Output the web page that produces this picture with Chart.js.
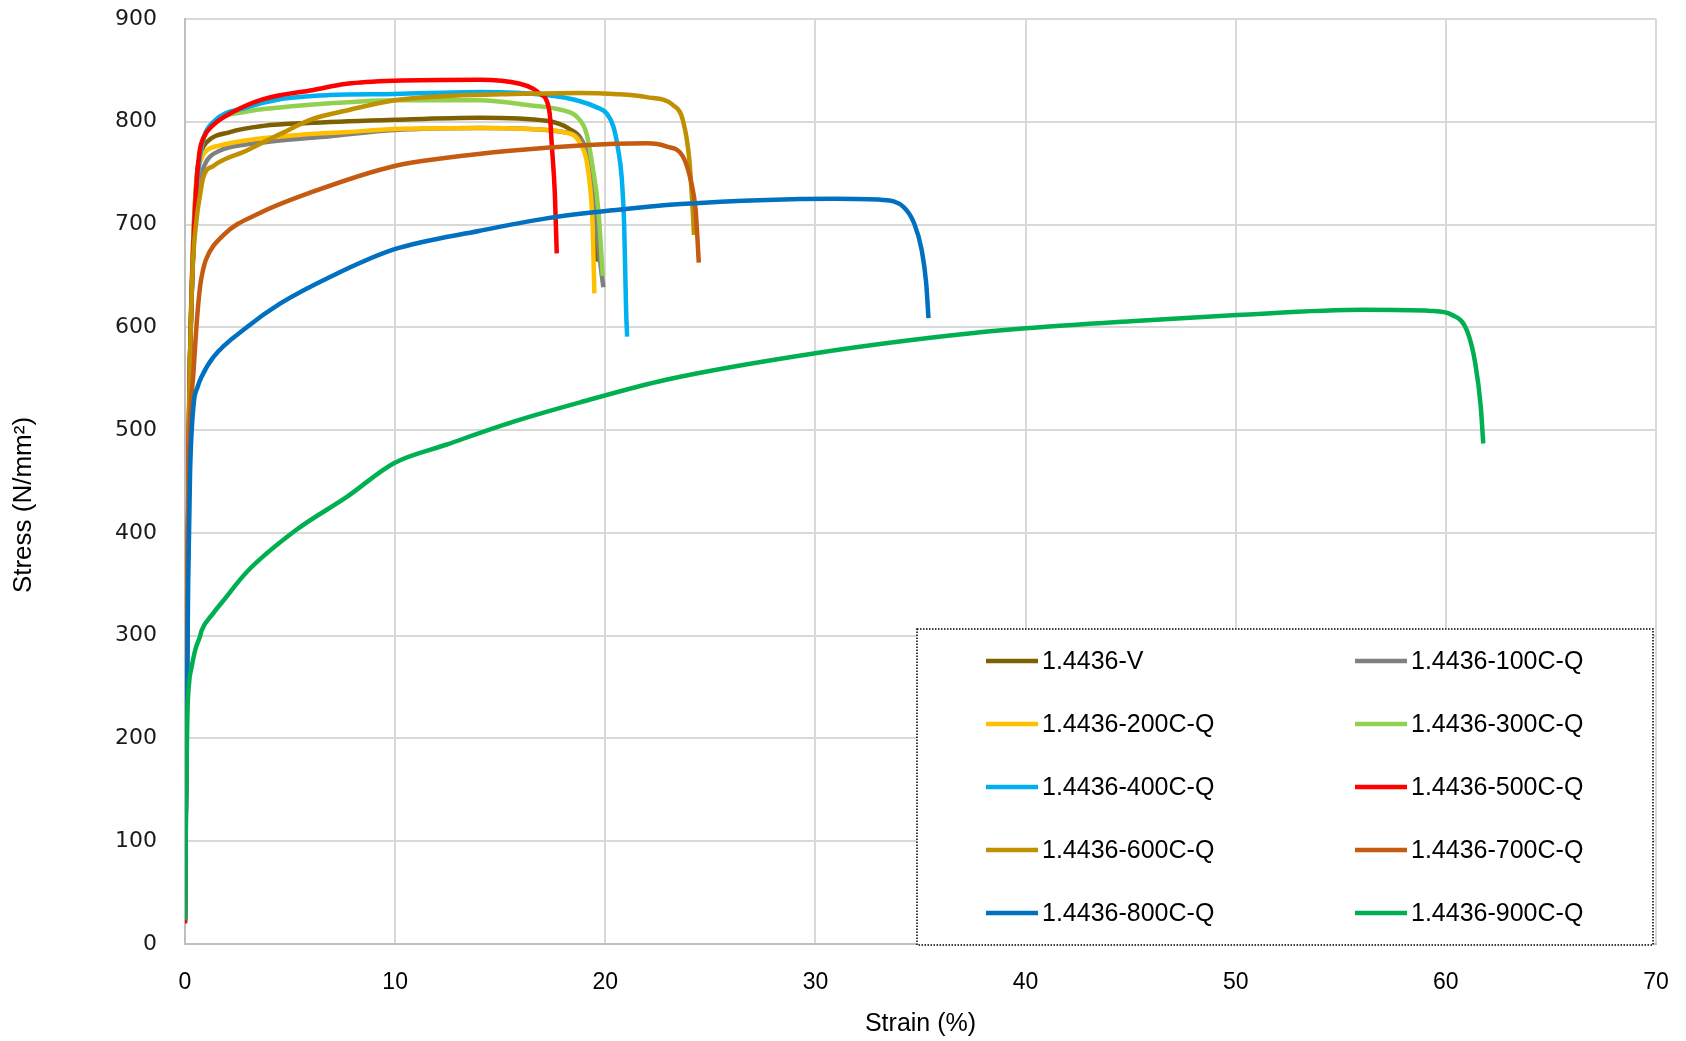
<!DOCTYPE html>
<html>
<head>
<meta charset="utf-8">
<script src="https://cdn.jsdelivr.net/npm/chart.js@4.4.1/dist/chart.umd.min.js"></script>
<style>
  html, body { margin: 0; padding: 0; background: #fff; }
</style>
</head>
<body>
<canvas id="stressChart" width="1686" height="1041"></canvas>
<script>
// stress-strain curves, values
const seriesLabels = [
  "1.4436-V", "1.4436-100C-Q", "1.4436-200C-Q", "1.4436-300C-Q", "1.4436-400C-Q",
  "1.4436-500C-Q", "1.4436-600C-Q", "1.4436-700C-Q", "1.4436-800C-Q", "1.4436-900C-Q"
];
const seriesColors = [
  "#7F6000", "#808080", "#FFC000", "#92D050", "#00B0F0",
  "#FF0000", "#BF9000", "#C55A11", "#0070C0", "#00B050"
];

const strainV = [0, 0.1, 0.2, 0.35, 0.55, 0.8, 1.03, 2.14, 3.73, 6.11, 9.97, 14.04, 17.2, 18.3, 18.96, 19.28, 19.5, 19.63];
const stressV = [22, 300, 520, 660, 745, 772, 780, 790, 796, 799, 802, 804, 801, 793, 779, 756, 714, 664];

const strain100 = [0, 0.1, 0.2, 0.35, 0.55, 0.8, 1.03, 1.67, 2.94, 4.2, 6.9, 9.97, 14.04, 16.4, 18.0, 18.64, 19.1, 19.43, 19.75, 19.91];
const stress100 = [22, 300, 520, 650, 720, 750, 762, 772, 778, 781, 786, 792, 794, 793, 790, 786, 771, 730, 665, 639];

const strain200 = [0, 0.1, 0.2, 0.35, 0.55, 0.8, 1.03, 1.67, 2.94, 5.31, 7.7, 9.97, 14.04, 16.4, 18.0, 18.8, 19.2, 19.4, 19.48];
const stress200 = [22, 300, 520, 660, 740, 765, 772, 777, 782, 787, 790, 793, 794, 793, 790, 779, 750, 698, 633];

const strain300 = [0, 0.1, 0.2, 0.35, 0.5, 0.7, 0.9, 1.35, 2.94, 4.52, 6.9, 9.97, 14.04, 16.4, 18.0, 18.64, 19.1, 19.4, 19.67, 19.88];
const stress300 = [22, 300, 520, 650, 720, 765, 785, 799, 810, 814, 818, 821, 821, 816, 811, 805, 789, 756, 714, 650];

const strain400 = [0, 0.1, 0.2, 0.35, 0.5, 0.7, 0.9, 1.35, 2.94, 4.52, 6.9, 9.97, 14.04, 17.2, 18.8, 19.6, 20.07, 20.39, 20.62, 20.78, 20.9, 20.99, 21.04];
const stress400 = [22, 300, 520, 650, 720, 765, 785, 800, 814, 822, 826, 827, 829, 826, 820, 814, 808, 795, 772, 746, 698, 617, 591];

const strain500 = [0, 0.1, 0.18, 0.3, 0.4, 0.55, 0.7, 0.87, 1.35, 2.14, 3.73, 6.11, 7.7, 9.97, 14.04, 15.94, 16.58, 16.9, 17.2, 17.37, 17.45, 17.6, 17.69];
const stress500 = [20, 300, 500, 620, 680, 740, 772, 784, 797, 808, 822, 831, 837, 840, 841, 837, 832, 827, 821, 805, 779, 730, 672];

const strain600 = [0, 0.1, 0.2, 0.35, 0.55, 0.71, 0.87, 1.35, 2.94, 4.52, 6.11, 7.7, 9.97, 12.45, 15.6, 18.8, 20.4, 21.97, 23.24, 23.7, 24.0, 24.16, 24.22];
const stress600 = [25, 300, 520, 650, 705, 728, 746, 757, 772, 788, 803, 811, 821, 825, 827, 828, 827, 824, 816, 801, 763, 714, 690];

const strain700 = [0, 0.1, 0.18, 0.24, 0.4, 0.56, 0.72, 0.86, 1.0, 1.84, 3.54, 6.09, 9.97, 12.45, 15.6, 18.8, 21.97, 22.9, 23.7, 24.1, 24.3, 24.45];
const stress700 = [25, 300, 450, 507, 555, 605, 640, 656, 666, 690, 711, 732, 757, 765, 772, 777, 779, 776, 766, 740, 714, 663];

const strain800 = [0, 0.08, 0.15, 0.24, 0.4, 0.6, 0.79, 1.35, 2.94, 4.52, 6.9, 9.97, 14.04, 17.2, 20.4, 23.6, 27.7, 30.9, 33.2, 34.2, 34.7, 35.06, 35.27, 35.38];
const stress800 = [30, 200, 350, 458, 523, 542, 552, 571, 600, 623, 649, 676, 694, 706, 714, 720, 724, 725, 724, 717, 701, 675, 643, 609];

const strain900 = [0, 0.05, 0.11, 0.2, 0.32, 0.5, 0.71, 0.79, 1.35, 1.82, 2.94, 5.3, 7.7, 9.96, 12.46, 15.6, 18.8, 22.9, 30.07, 36.4, 40, 45, 50.05, 56.1, 59.3, 60.3, 61.0, 61.4, 61.66, 61.78];
const stress900 = [23, 140, 221, 255, 270, 287, 299, 305, 322, 334, 362, 403, 435, 468, 486, 508, 527, 549, 575, 592, 599, 606, 612, 617, 616, 612, 597, 565, 523, 487];

const strainTicks = [0, 10, 20, 30, 40, 50, 60, 70];
const stressTicks = [0, 100, 200, 300, 400, 500, 600, 700, 800, 900];

const allStrain = [strainV, strain100, strain200, strain300, strain400, strain500, strain600, strain700, strain800, strain900];
const allStress = [stressV, stress100, stress200, stress300, stress400, stress500, stress600, stress700, stress800, stress900];

const toPoints = (xs, ys) => xs.map((x, i) => ({ x: x, y: ys[i] }));

const datasets = seriesLabels.map((label, i) => ({
  label: label,
  data: toPoints(allStrain[i], allStress[i]),
  borderColor: seriesColors[i],
  backgroundColor: seriesColors[i],
  borderWidth: 4.5,
  pointRadius: 0,
  cubicInterpolationMode: "monotone",
  fill: false,
  order: seriesLabels.length - i   // later series on top, like excel
}));

// 2 x 5 legend inside the plot, dotted frame
const gridLegend = {
  id: "gridLegend",
  afterDraw(chart) {
    const ctx = chart.ctx;
    const area = chart.chartArea;
    const boxX = 917, boxY = 629;
    const boxW = area.right - 3 - boxX, boxH = area.bottom + 1 - boxY;
    ctx.save();
    ctx.fillStyle = "#ffffff";
    ctx.fillRect(boxX, boxY, boxW, boxH);
    ctx.strokeStyle = "#000000";
    ctx.lineWidth = 1.5;
    ctx.setLineDash([1.5, 1.5]);
    ctx.strokeRect(boxX, boxY, boxW, boxH);
    ctx.setLineDash([]);

    ctx.font = "25px 'Liberation Sans', Arial, sans-serif";
    ctx.textBaseline = "middle";
    ctx.textAlign = "left";
    chart.data.datasets.forEach((ds, i) => {
      const col = i % 2;
      const row = Math.floor(i / 2);
      const sx = col === 0 ? 986 : 1355;
      const sy = 661 + row * 63;
      ctx.strokeStyle = ds.borderColor;
      ctx.lineWidth = 4.5;
      ctx.beginPath();
      ctx.moveTo(sx, sy);
      ctx.lineTo(sx + 52, sy);
      ctx.stroke();
      ctx.fillStyle = "#000000";
      ctx.fillText(ds.label, sx + 56, sy + 1);
    });

    // y axis title, placed a bit below the middle like the original
    ctx.translate(24, 505);
    ctx.rotate(-Math.PI / 2);
    ctx.textAlign = "center";
    ctx.font = "26px 'Liberation Sans', Arial, sans-serif";
    ctx.fillText("Stress (N/mm²)", 0, 0);
    ctx.restore();
  }
};

const ctx = document.getElementById("stressChart").getContext("2d");

new Chart(ctx, {
  type: "line",
  data: { datasets: datasets },
  plugins: [gridLegend],
  options: {
    responsive: false,
    animation: false,
    layout: { padding: { top: 19, right: 30, left: 0, bottom: 0 } },
    plugins: {
      legend: { display: false },
      tooltip: { enabled: false }
    },
    scales: {
      x: {
        type: "linear",
        min: 0,
        max: 70,
        afterBuildTicks: (scale) => { scale.ticks = strainTicks.map(v => ({ value: v })); },
        afterFit: (scale) => {
          scale.height = 97;
          scale.paddingLeft = 0;
          scale.paddingRight = 0;
        },
        grid: { color: "#D9D9D9", lineWidth: 2, drawTicks: false },
        border: { color: "#BFBFBF", width: 2 },
        ticks: {
          padding: 25,
          color: "#000000",
          font: { family: "'Liberation Sans Narrow', 'Liberation Sans', sans-serif", size: 23 }
        },
        title: {
          display: true,
          text: "Strain (%)",
          color: "#000000",
          padding: { top: 0, bottom: 2 },
          font: { family: "'Liberation Sans', Arial, sans-serif", size: 25 }
        }
      },
      y: {
        type: "linear",
        min: 0,
        max: 900,
        afterBuildTicks: (scale) => { scale.ticks = stressTicks.map(v => ({ value: v })); },
        afterFit: (scale) => {
          scale.width = 185;
          scale.paddingTop = 0;
          scale.paddingBottom = 0;
        },
        grid: { color: "#D9D9D9", lineWidth: 2, drawTicks: false },
        border: { color: "#BFBFBF", width: 2 },
        ticks: {
          padding: 28,
          color: "#1a1a1a",
          font: { family: "'DejaVu Sans', sans-serif", size: 22 }
        },
        title: { display: false }
      }
    }
  }
});
</script>
</body>
</html>
